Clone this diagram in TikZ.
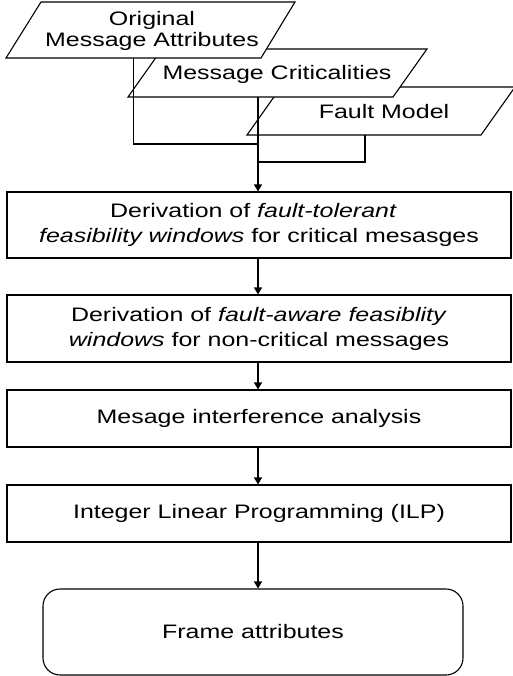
\documentclass[tikz,border=0pt]{standalone}
\usepackage{fontspec}
\setmainfont{Liberation Sans}[FakeStretch=1.28]
\usetikzlibrary{arrows.meta,calc}
\tikzset{
  lbl/.style={font=\fontsize{19.5}{25}\selectfont, align=center},
  inshape/.style={draw, fill=white, line width=1.1pt},
  intext/.style={font=\fontsize{19.5}{21.5}\selectfont, align=center, inner sep=0pt},
  proc/.style={rectangle, draw, fill=white, line width=1.1pt, minimum width=504pt,
    inner sep=0pt, lbl},
  term/.style={rectangle, rounded corners=17pt, draw, fill=white, line width=1.1pt,
    minimum width=420pt, minimum height=86pt, inner sep=0pt, lbl},
  conn/.style={line width=1.1pt},
  arr/.style={line width=1.1pt, -{Triangle[length=7pt,width=8pt]}}
}
\begin{document}
\begin{tikzpicture}[x=1pt,y=-1pt]
\useasboundingbox (0,0) rectangle (513,676);
% inputs (drawn back to front)
\filldraw[inshape] (281,87) -- (515,87) -- (481,135) -- (247,135) -- cycle;
\node[intext] (t3) at (384,112) {Fault Model};
\filldraw[inshape] (162,49) -- (427,49) -- (393,97) -- (128,97) -- cycle;
\node[intext] (t2) at (277,74) {Message Criticalities};
\filldraw[inshape] (41,2) -- (295,2) -- (261,58) -- (6,58) -- cycle;
\node[intext] (t1) at (152,31) {Original\\Message Attributes};
% process boxes
\node[proc, minimum height=66pt] (b1) at (259,225) {Derivation of \textit{fault-tolerant}\hspace*{11pt}\\\textit{feasibility windows} for critical mesasges};
\node[proc, minimum height=67pt] (b2) at (259,328.5) {Derivation of \textit{fault-aware feasiblity}\\\textit{windows} for non-critical messages};
\node[proc, minimum height=57pt] (b3) at (259,418.5) {Mesage interference analysis};
\node[proc, minimum height=57pt] (b4) at (259,513.5) {Integer Linear Programming (ILP)};
\node[term] (fr) at (253,632) {Frame attributes};
% connector points
\coordinate (p1b) at (133.5,58);
\coordinate (p2b) at (258,97);
\coordinate (p3b) at (365,135);
\coordinate (j) at (258,144);
\coordinate (k) at (258,162);
\draw[conn] (p1b) |- (j);
\draw[conn] (p2b) -- (j);
\draw[conn] (p3b) |- (k);
\draw[arr] (j) -- (j |- b1.north);
\draw[arr] (b1.south -| j) -- (j |- b2.north);
\draw[arr] (b2.south -| j) -- (j |- b3.north);
\draw[arr] (b3.south -| j) -- (j |- b4.north);
\draw[arr] (b4.south -| j) -- (j |- fr.north);
\end{tikzpicture}
\end{document}
